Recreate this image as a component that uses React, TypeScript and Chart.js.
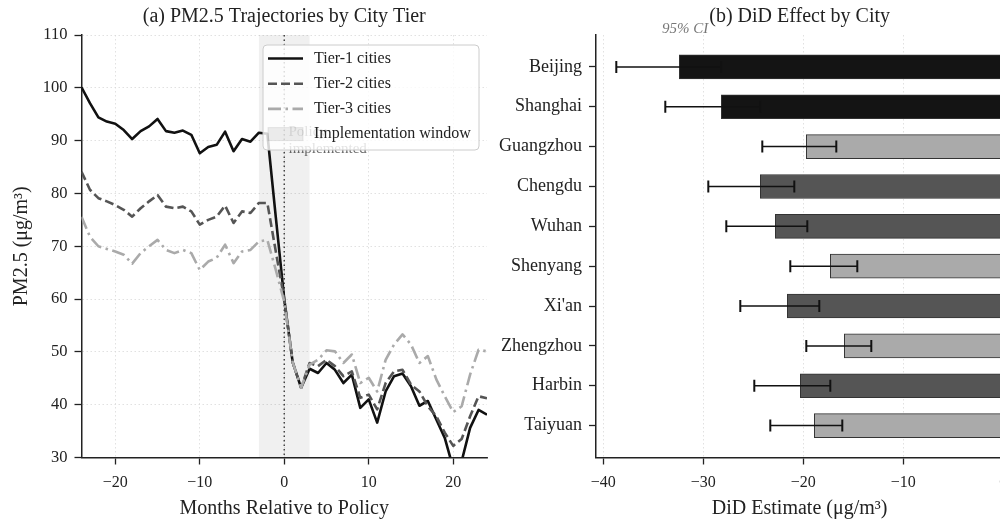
import React, { useEffect, useRef } from 'react';
import { Chart, registerables } from 'chart.js';

Chart.register(...registerables);

// ---------- Panel (a) data ----------
const months = [
  -24, -23, -22, -21, -20, -19, -18, -17, -16, -15, -14, -13,
  -12, -11, -10, -9, -8, -7, -6, -5, -4, -3, -2, -1,
  0,
  1, 2, 3, 4, 5, 6, 7, 8, 9, 10, 11, 12,
  13, 14, 15, 16, 17, 18, 19, 20, 21, 22, 23, 24,
];
const tier1 = [
  100.1, 97.1, 94.4, 93.6, 93.2, 92.0, 90.3, 91.8, 92.7, 94.1, 91.8, 91.5,
  91.9, 91.1, 87.6, 88.8, 89.2, 91.7, 88.0, 90.3, 89.8, 91.5, 91.3, 75.5,
  60.0,
  48.0, 43.2, 46.8, 46.0, 47.9, 46.6, 44.1, 45.7, 39.4, 41.0, 36.6, 42.5,
  45.4, 45.9, 43.5, 39.8, 40.7, 37.2, 33.7, 28.0, 29.3, 35.6, 39.0, 38.1,
];
const tier2 = [
  84.1, 80.7, 79.1, 78.5, 77.8, 76.9, 75.6, 77.2, 78.5, 79.7, 77.5, 77.2,
  77.5, 76.6, 74.1, 75.0, 75.6, 77.7, 74.4, 76.6, 76.3, 78.2, 78.2, 69.0,
  60.0,
  48.0, 43.2, 47.9, 47.3, 48.5, 47.3, 45.4, 46.3, 41.3, 41.9, 39.1, 44.1,
  46.3, 46.6, 43.8, 42.5, 39.7, 37.8, 34.7, 32.2, 33.5, 37.8, 41.6, 41.2,
];
const tier3 = [
  75.6, 71.8, 70.0, 69.5, 69.0, 68.4, 66.7, 68.7, 70.0, 71.2, 69.3, 68.7,
  69.3, 68.7, 65.5, 67.1, 67.8, 70.3, 66.8, 69.0, 69.3, 70.9, 71.2, 65.5,
  59.5,
  48.0, 43.2, 47.6, 48.5, 50.3, 50.1, 47.9, 49.5, 44.1, 45.1, 42.5, 48.5,
  51.4, 53.3, 51.4, 47.9, 49.2, 44.8, 41.6, 38.6, 39.7, 45.7, 50.4, 50.1,
];
const seriesLabels = ['Tier-1 cities', 'Tier-2 cities', 'Tier-3 cities'];
const windowLabel = 'Implementation window';
const windowRange = [-3, 3];
const policyMonth = 0;
const policyText = ['Policy', 'implemented'];
const leftXTicks = [-20, -10, 0, 10, 20];
const leftYTicks = [30, 40, 50, 60, 70, 80, 90, 100, 110];

// ---------- Panel (b) data ----------
const cities = ['Beijing', 'Shanghai', 'Guangzhou', 'Chengdu', 'Wuhan', 'Shenyang', "Xi'an", 'Zhengzhou', 'Harbin', 'Taiyuan'];
const didEstimate = [-32.4, -28.2, -19.7, -24.3, -22.8, -17.3, -21.6, -15.9, -20.3, -18.9];
const ciLower = [-38.7, -33.8, -24.1, -29.5, -27.7, -21.3, -26.3, -19.7, -24.9, -23.3];
const ciUpper = [-28.2, -24.3, -16.7, -20.9, -19.6, -14.6, -18.4, -13.2, -17.3, -16.1];
const barColors = ['#141414', '#141414', '#aaaaaa', '#555555', '#555555', '#aaaaaa', '#555555', '#aaaaaa', '#555555', '#aaaaaa'];
const rightXTicks = [-40, -30, -20, -10, 0];

const FONT = "'Liberation Serif', 'Times New Roman', Times, serif";
const TXT = '#222222';
const fmt = (v: number | string) => String(v).replace('-', '\u2212');

const windowPlugin = {
  id: 'windowPlugin',
  beforeDatasetsDraw(chart: any) {
    const { ctx, chartArea: ca, scales } = chart;
    const x0 = scales.x.getPixelForValue(windowRange[0]);
    const x1 = scales.x.getPixelForValue(windowRange[1]);
    ctx.save();
    ctx.fillStyle = 'rgba(0,0,0,0.06)';
    ctx.fillRect(x0, ca.top, x1 - x0, ca.bottom - ca.top);
    const xp = scales.x.getPixelForValue(policyMonth);
    ctx.strokeStyle = '#444444';
    ctx.lineWidth = 1.5;
    ctx.setLineDash([1.5, 3]);
    ctx.beginPath();
    ctx.moveTo(xp, ca.top);
    ctx.lineTo(xp, ca.bottom);
    ctx.stroke();
    ctx.restore();
  },
  afterDatasetsDraw(chart: any) {
    const { ctx, scales } = chart;
    const x = scales.x.getPixelForValue(policyMonth + 0.5);
    const y = scales.y.getPixelForValue(91.6);
    ctx.save();
    ctx.font = `15px ${FONT}`;
    ctx.fillStyle = '#666666';
    ctx.textAlign = 'left';
    ctx.textBaseline = 'middle';
    policyText.forEach((t, i) => ctx.fillText(t, x, y + i * 17));
    ctx.restore();
  },
};

const legendPlugin = {
  id: 'customLegend',
  afterDraw(chart: any) {
    const { ctx, chartArea: ca } = chart;
    const boxW = 216;
    const boxH = 105;
    const boxL = ca.right - 8 - boxW;
    const boxT = ca.top + 10;
    ctx.save();
    ctx.beginPath();
    ctx.roundRect(boxL, boxT, boxW, boxH, 4);
    ctx.fillStyle = 'rgba(255,255,255,0.82)';
    ctx.fill();
    ctx.strokeStyle = '#cccccc';
    ctx.lineWidth = 1;
    ctx.stroke();
    ctx.font = `16px ${FONT}`;
    ctx.textBaseline = 'middle';
    ctx.textAlign = 'left';
    const ds = chart.data.datasets;
    const rowY = (i: number) => boxT + 13.5 + i * 25.2;
    for (let i = 0; i < ds.length; i++) {
      const y = rowY(i);
      ctx.save();
      ctx.strokeStyle = ds[i].borderColor;
      ctx.lineWidth = ds[i].borderWidth;
      ctx.setLineDash(ds[i].borderDash || []);
      ctx.beginPath();
      ctx.moveTo(boxL + 5, y);
      ctx.lineTo(boxL + 40, y);
      ctx.stroke();
      ctx.restore();
      ctx.fillStyle = TXT;
      ctx.fillText(ds[i].label, boxL + 51, y);
    }
    const y = rowY(ds.length);
    ctx.fillStyle = 'rgba(0,0,0,0.07)';
    ctx.fillRect(boxL + 5, y - 6.5, 35, 13);
    ctx.strokeStyle = 'rgba(0,0,0,0.08)';
    ctx.lineWidth = 1;
    ctx.strokeRect(boxL + 5, y - 6.5, 35, 13);
    ctx.fillStyle = TXT;
    ctx.fillText(windowLabel, boxL + 51, y);
    ctx.restore();
  },
};

const errorBarPlugin = {
  id: 'errorBars',
  afterDatasetsDraw(chart: any) {
    const { ctx, scales } = chart;
    ctx.save();
    ctx.strokeStyle = '#111111';
    for (let i = 0; i < cities.length; i++) {
      const y = scales.y.getPixelForValue(i);
      const xa = scales.x.getPixelForValue(ciLower[i]);
      const xb = scales.x.getPixelForValue(ciUpper[i]);
      ctx.lineWidth = 1.5;
      ctx.beginPath();
      ctx.moveTo(xa, y);
      ctx.lineTo(xb, y);
      ctx.stroke();
      ctx.lineWidth = 2;
      ctx.beginPath();
      ctx.moveTo(xa, y - 6);
      ctx.lineTo(xa, y + 6);
      ctx.moveTo(xb, y - 6);
      ctx.lineTo(xb, y + 6);
      ctx.stroke();
    }
    ctx.restore();
  },
  afterDraw(chart: any) {
    const { ctx, chartArea: ca } = chart;
    ctx.save();
    ctx.font = `italic 15px ${FONT}`;
    ctx.fillStyle = '#777777';
    ctx.textAlign = 'left';
    ctx.textBaseline = 'middle';
    ctx.fillText('95% CI', ca.left + 66, 29);
    ctx.restore();
  },
};

const tickFont = { family: FONT, size: 16 };
const titleFont = { family: FONT, size: 20, weight: 'normal' as const, lineHeight: 1.2 };
const gridCommon = { color: '#d9d9d9', lineWidth: 0.8, tickLength: 7, tickColor: '#222222', tickWidth: 1.3, tickBorderDash: [] as number[] };
const borderCommon = { display: true, color: '#222222', width: 1.5, dash: [1.5, 2.5] };

export default function App() {
  const leftRef = useRef<HTMLCanvasElement>(null);
  const rightRef = useRef<HTMLCanvasElement>(null);

  useEffect(() => {
    const styles = [
      { color: '#111111', dash: [] as number[] },
      { color: '#555555', dash: [9, 4] },
      { color: '#aaaaaa', dash: [13, 4.5, 2.5, 4.5] },
    ];
    const seriesValues = [tier1, tier2, tier3];
    const left = new Chart(leftRef.current as HTMLCanvasElement, {
      type: 'line',
      data: {
        datasets: seriesValues.map((vals, k) => ({
          label: seriesLabels[k],
          data: months.map((m, i) => ({ x: m, y: vals[i] })),
          borderColor: styles[k].color,
          borderWidth: 2.6,
          borderDash: styles[k].dash,
          borderJoinStyle: 'round' as const,
          pointRadius: 0,
          tension: 0,
          fill: false,
          order: 2 - k,
          clip: 0,
        })),
      },
      options: {
        responsive: false,
        animation: false,
        events: [],
        layout: { padding: { left: 0, right: 13, top: 0, bottom: 0 } },
        plugins: {
          legend: { display: false },
          tooltip: { enabled: false },
          title: {
            display: true,
            text: '(a) PM2.5 Trajectories by City Tier',
            fullSize: false,
            font: titleFont,
            color: TXT,
            padding: { top: 5, bottom: 6 },
          },
        },
        scales: {
          x: {
            type: 'linear',
            min: -24,
            max: 24,
            afterBuildTicks: (s: any) => { s.ticks = leftXTicks.map((v) => ({ value: v })); },
            afterFit: (s: any) => { s.height = 63.5; },
            ticks: { font: tickFont, color: TXT, padding: 9, maxRotation: 0, autoSkip: false, callback: (v: any) => fmt(v) },
            grid: gridCommon,
            border: borderCommon,
            title: { display: true, text: 'Months Relative to Policy', font: titleFont, color: TXT, padding: { top: 0, bottom: 0 } },
          },
          y: {
            type: 'linear',
            min: 30,
            max: 110,
            afterBuildTicks: (s: any) => { s.ticks = leftYTicks.map((v) => ({ value: v })); },
            afterFit: (s: any) => { s.width = 81.5; },
            ticks: { font: { family: FONT, size: 16.5 }, color: TXT, padding: 7, autoSkip: false, callback: (v: any) => fmt(v) },
            grid: gridCommon,
            border: borderCommon,
            title: { display: true, text: 'PM2.5 (\u03bcg/m\u00b3)', font: titleFont, color: TXT, padding: { top: 10, bottom: 0 } },
          },
        },
      } as any,
      plugins: [windowPlugin, legendPlugin],
    });

    const right = new Chart(rightRef.current as HTMLCanvasElement, {
      type: 'bar',
      data: {
        datasets: [
          {
            label: 'DiD Estimate',
            data: didEstimate.map((v, i) => ({ x: v, y: i })),
            backgroundColor: barColors,
            borderColor: '#333333',
            borderWidth: 1,
            barThickness: 24,
          },
        ],
      },
      options: {
        responsive: false,
        animation: false,
        events: [],
        indexAxis: 'y',
        layout: { padding: { left: 0, right: 26.7, top: 0, bottom: 0 } },
        plugins: {
          legend: { display: false },
          tooltip: { enabled: false },
          title: {
            display: true,
            text: '(b) DiD Effect by City',
            fullSize: false,
            font: titleFont,
            color: TXT,
            padding: { top: 5, bottom: 6 },
          },
        },
        scales: {
          x: {
            type: 'linear',
            min: -40.73,
            max: 0,
            afterBuildTicks: (s: any) => { s.ticks = rightXTicks.map((v) => ({ value: v })); },
            afterFit: (s: any) => { s.height = 63.5; },
            ticks: { font: tickFont, color: TXT, padding: 9, maxRotation: 0, autoSkip: false, callback: (v: any) => fmt(v) },
            grid: gridCommon,
            border: borderCommon,
            title: { display: true, text: 'DiD Estimate (\u03bcg/m\u00b3)', font: titleFont, color: TXT, padding: { top: 0, bottom: 0 } },
          },
          y: {
            type: 'linear',
            min: -0.8,
            max: 9.8,
            reverse: true,
            offset: false,
            afterBuildTicks: (s: any) => { s.ticks = cities.map((_, i) => ({ value: i })); },
            afterFit: (s: any) => { s.width = 106; },
            ticks: { font: { family: FONT, size: 18 }, color: TXT, padding: 7, autoSkip: false, callback: (v: any) => cities[v] ?? '' },
            grid: { display: true, drawOnChartArea: false, offset: false, tickLength: 7, tickColor: '#222222', tickWidth: 1.3 },
            border: { display: true, color: '#222222', width: 1.5 },
          },
        },
      } as any,
      plugins: [errorBarPlugin],
    });

    return () => {
      left.destroy();
      right.destroy();
    };
  }, []);

  return (
    <div style={{ position: 'fixed', left: 0, top: 0, width: 1000, height: 521, overflow: 'hidden', background: '#ffffff' }}>
      <canvas ref={leftRef} width={500} height={521} style={{ position: 'absolute', left: 0, top: 0, width: 500, height: 521 }} />
      <canvas ref={rightRef} width={540} height={521} style={{ position: 'absolute', left: 490, top: 0, width: 540, height: 521 }} />
    </div>
  );
}
